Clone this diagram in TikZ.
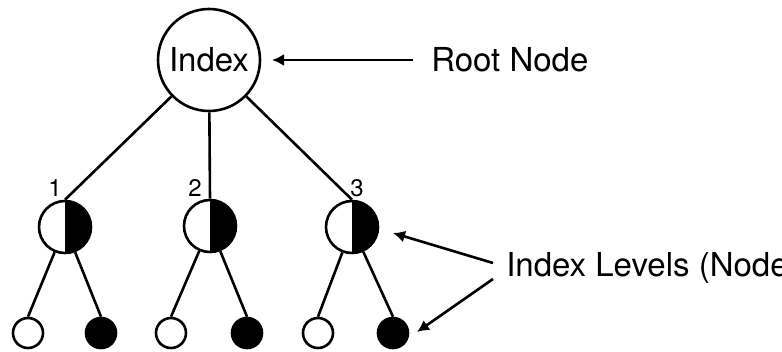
\documentclass[tikz,border=0pt]{standalone}
\usepackage{fontspec}
\setmainfont{TeX Gyre Heros}
\usetikzlibrary{arrows.meta}
\begin{document}
\begin{tikzpicture}[x=1pt,y=-1pt,
  line width=2.6pt,
  every node/.style={font=\fontsize{33}{39}\selectfont},
  rootbox/.style={circle,draw,minimum size=102pt,inner sep=0pt},
  halfbox/.style={circle,draw,minimum size=52pt,inner sep=0pt,
    path picture={\fill[black] (path picture bounding box.north) rectangle (path picture bounding box.south east);}},
  whiteleaf/.style={circle,draw,minimum size=30pt,inner sep=0pt},
  blackleaf/.style={circle,draw,fill=black,minimum size=30pt,inner sep=0pt},
  numlabel/.style={font=\fontsize{24}{28}\selectfont,inner sep=0pt},
  textlabel/.style={anchor=west,inner sep=0pt},
  arrowline/.style={-{Latex[length=12pt,width=12pt]}}
]
\clip (0,0) rectangle (782,351);
\node[rootbox] (root) at (209,60) {Index};
\node[halfbox] (n1) at (65,227) {};
\node[halfbox] (n2) at (210,226) {};
\node[halfbox] (n3) at (352,227) {};
\node[whiteleaf] (a1) at (28,333) {};
\node[blackleaf] (b1) at (101,333) {};
\node[whiteleaf] (a2) at (171,333) {};
\node[blackleaf] (b2) at (247,333) {};
\node[whiteleaf] (a3) at (318,333) {};
\node[blackleaf] (b3) at (393,333) {};
\node[numlabel] (t1) at (55,188) {1};
\node[numlabel] (t2) at (195,188) {2};
\node[numlabel] (t3) at (357,188) {3};
\draw (root) -- (n1.north);
\draw (root) -- (n2.north);
\draw (root) -- (n3.north);
\draw (n1) -- (a1.north);
\draw (n1) -- (b1.north);
\draw (n2) -- (a2.north);
\draw (n2) -- (b2.north);
\draw (n3) -- (a3.north);
\draw (n3) -- (b3.north);
\node[textlabel] (rootlbl) at (430,60) {Root Node};
\node[textlabel] (lvllbl) at (505,268) {Index Levels (Nodes)};
\coordinate (rootarrow) at (272,60);
\coordinate (lvlarrowa) at (393,233);
\coordinate (lvlarrowb) at (417,332);
\coordinate (lvlstarta) at (493,263);
\coordinate (lvlstartb) at (493,279);
\draw[arrowline] ([xshift=-17pt]rootlbl.west) -- (rootarrow);
\draw[arrowline] (lvlstarta) -- (lvlarrowa);
\draw[arrowline] (lvlstartb) -- (lvlarrowb);
\end{tikzpicture}
\end{document}
